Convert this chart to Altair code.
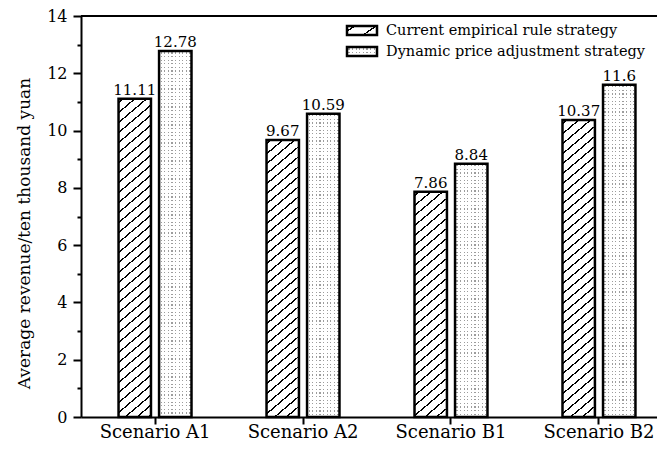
import math
import altair as alt
import pandas as pd

# ---------------- data ----------------
scenarios = ["Scenario A1", "Scenario A2", "Scenario B1", "Scenario B2"]
strategies = ["Current empirical rule strategy", "Dynamic price adjustment strategy"]
current_values = [11.11, 9.67, 7.86, 10.37]
dynamic_values = [12.78, 10.59, 8.84, 11.6]
y_title = "Average revenue/ten thousand yuan"

df = pd.DataFrame({
    "scenario": scenarios * 2,
    "strategy": [strategies[0]] * 4 + [strategies[1]] * 4,
    "value": current_values + dynamic_values,
})
legend_df = pd.DataFrame({"strategy": strategies})

# ---------------- layout / style ----------------
FONT = "DejaVu Serif"
VIEW_W = 576          # svg stays inside the page body (649 px)
X_RANGE = 592         # band scale extends past the visible edge, as in the original
PLOT_H = 401
Y_MAX = 14
PAD_IN = 0.507
PAD_OUT = 0.2537
OFF_PAD = 0.2
STROKE_W = 2.5

step = X_RANGE / (len(scenarios) - PAD_IN + 2 * PAD_OUT)
band = step * (1 - PAD_IN)
off_step = band / (2 - OFF_PAD)
BAR_W = off_step * (1 - OFF_PAD)
PX_PER_UNIT = PLOT_H / Y_MAX


def stripe_stops(n, frac, on, off, phase=0.3):
    stops = [{"offset": 0, "color": off}]
    period = 1.0 / n
    k = 0
    while True:
        s = (k + phase) * period
        if s >= 1:
            break
        e = min(s + frac * period, 1)
        stops += [{"offset": s, "color": off}, {"offset": s, "color": on},
                  {"offset": e, "color": on}, {"offset": e, "color": off}]
        k += 1
    stops.append({"offset": 1, "color": off})
    return stops


def hatch_gradient(w, h, spacing=10.0, lw=1.3, slope=0.85):
    a0, b0 = slope / h, 1.0 / w
    alpha = (a0 + b0) / (a0 * a0 + b0 * b0)
    n = (slope * w + h) / spacing
    frac = lw * math.sqrt(1 + slope * slope) / spacing
    return {"gradient": "linear", "x1": 0, "y1": 0, "x2": alpha * a0, "y2": alpha * b0,
            "stops": stripe_stops(n, frac, "black", "white")}


DOT_SP = 3.6
DOT_SZ = 1.2


def vdots_gradient(w):
    return {"gradient": "linear", "x1": 0, "y1": 0, "x2": 1, "y2": 0,
            "stops": stripe_stops(w / DOT_SP, DOT_SZ / DOT_SP, "#9c9c9c", "white", 0.4)}


def hdots_gradient(h):
    return {"gradient": "linear", "x1": 0, "y1": 0, "x2": 0, "y2": 1,
            "stops": stripe_stops(h / DOT_SP, DOT_SZ / DOT_SP, "rgba(255,255,255,0)", "white", 0.4)}


x_enc = alt.X("scenario:N", sort=scenarios,
              scale=alt.Scale(domain=scenarios, range=[0, X_RANGE],
                              paddingInner=PAD_IN, paddingOuter=PAD_OUT),
              axis=alt.Axis(title=None, labelAngle=0, labelFontSize=18, labelPadding=13,
                            labelBaseline="alphabetic", tickSize=7))
xoff_enc = alt.XOffset("strategy:N", sort=strategies,
                       scale=alt.Scale(domain=strategies, paddingInner=OFF_PAD, paddingOuter=0))
y_enc = alt.Y("value:Q", scale=alt.Scale(domain=[0, Y_MAX], nice=False),
              axis=alt.Axis(title=y_title, values=list(range(0, Y_MAX + 1)),
                            labelExpr="datum.value % 2 == 0 ? datum.label : ''",
                            tickSize={"condition": {"test": "datum.value % 2 == 1", "value": 4},
                                      "value": 8},
                            labelFontSize=16, labelPadding=6,
                            titleFontSize=17, titleFont=FONT, titleFontWeight="normal",
                            titleX=-57, titleY=217, titleAngle=270, titleBaseline="middle",
                            titleAlign="center"))

base = alt.Chart(df).encode(x=x_enc, xOffset=xoff_enc, y=y_enc)

layers = []
for s, v in zip(scenarios, current_values):
    h = v * PX_PER_UNIT
    layers.append(
        base.transform_filter((alt.datum.scenario == s) & (alt.datum.strategy == strategies[0]))
        .mark_bar(fill=hatch_gradient(BAR_W, h), stroke="black", strokeWidth=STROKE_W)
    )
layers.append(
    base.transform_filter(alt.datum.strategy == strategies[1])
    .mark_bar(fill=vdots_gradient(BAR_W), strokeWidth=0)
)
for s, v in zip(scenarios, dynamic_values):
    h = v * PX_PER_UNIT
    layers.append(
        base.transform_filter((alt.datum.scenario == s) & (alt.datum.strategy == strategies[1]))
        .mark_bar(fill=hdots_gradient(h), stroke="black", strokeWidth=STROKE_W)
    )

labels = base.mark_text(font=FONT, fontSize=15, dy=-4, baseline="alphabetic", color="black").encode(
    text=alt.Text("value:Q", format="~g"))
layers.append(labels)

top_rule = alt.Chart(pd.DataFrame({"k": [0]})).mark_rule(color="black", strokeWidth=2).encode(
    x=alt.value(0), x2=alt.value(720), y=alt.value(0))
layers.append(top_rule)

# ---------------- legend ----------------
LX, LW, LH = 266, 30, 9
row_y = [10, 31]
LEG_FS = 14.5
leg = alt.Chart(legend_df)
sw0 = leg.transform_filter(alt.datum.strategy == strategies[0]).mark_rect(
    fill=hatch_gradient(LW, LH, spacing=15, lw=1.3, slope=0.7), stroke="black", strokeWidth=STROKE_W
).encode(x=alt.value(LX), x2=alt.value(LX + LW), y=alt.value(row_y[0]), y2=alt.value(row_y[0] + LH))
sw1a = leg.transform_filter(alt.datum.strategy == strategies[1]).mark_rect(
    fill=vdots_gradient(LW), strokeWidth=0
).encode(x=alt.value(LX), x2=alt.value(LX + LW), y=alt.value(row_y[1]), y2=alt.value(row_y[1] + LH))
sw1b = leg.transform_filter(alt.datum.strategy == strategies[1]).mark_rect(
    fill=hdots_gradient(LH), stroke="black", strokeWidth=STROKE_W
).encode(x=alt.value(LX), x2=alt.value(LX + LW), y=alt.value(row_y[1]), y2=alt.value(row_y[1] + LH))
lt0 = leg.transform_filter(alt.datum.strategy == strategies[0]).mark_text(
    font=FONT, fontSize=LEG_FS, align="left", baseline="middle", color="black"
).encode(x=alt.value(LX + LW + 9), y=alt.value(row_y[0] + LH / 2), text="strategy:N")
lt1 = leg.transform_filter(alt.datum.strategy == strategies[1]).mark_text(
    font=FONT, fontSize=LEG_FS, align="left", baseline="middle", color="black"
).encode(x=alt.value(LX + LW + 9), y=alt.value(row_y[1] + LH / 2), text="strategy:N")
layers += [sw0, sw1a, sw1b, lt0, lt1]

chart = alt.layer(*layers).properties(
    width=VIEW_W, height=PLOT_H,
    autosize=alt.AutoSizeParams(type="none"),
    padding={"left": 73, "top": 8, "right": 0, "bottom": 25},
).configure_view(strokeWidth=0, stroke="transparent").configure_axis(
    grid=False, domainColor="black", domainWidth=2, tickColor="black", tickWidth=2,
    labelFont=FONT, labelColor="black", titleColor="black",
)

chart.save("out.html", embed_options={"renderer": "svg", "actions": False})
